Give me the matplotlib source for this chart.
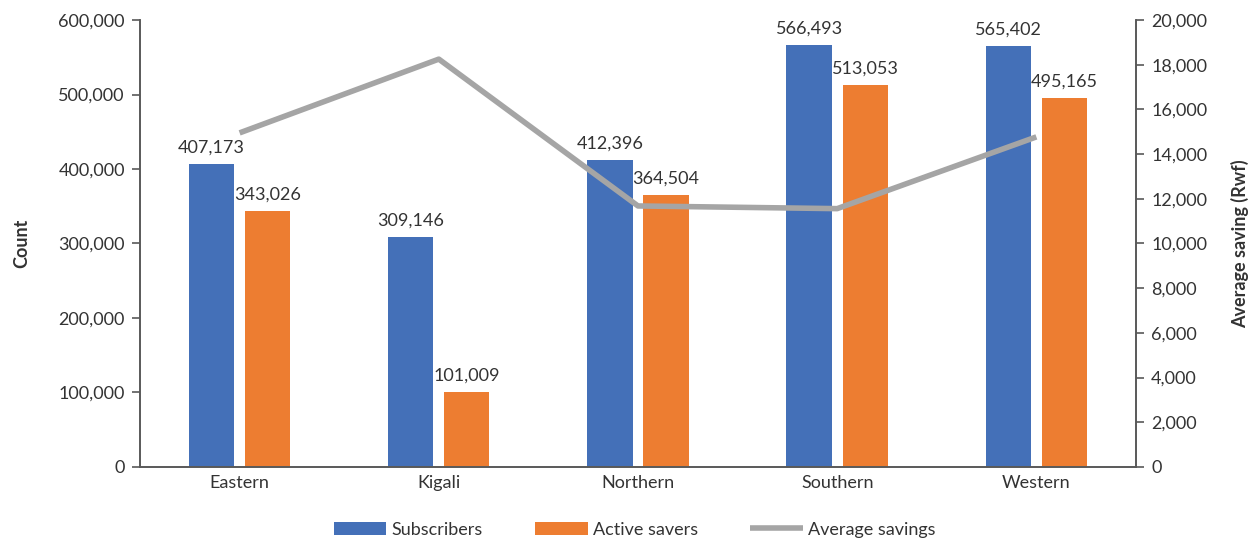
import numpy as np
import matplotlib.pyplot as plt
from matplotlib.ticker import FuncFormatter

regions = ["Eastern", "Kigali", "Northern", "Southern", "Western"]
subscribers = [407173, 309146, 412396, 566493, 565402]
active_savers = [343026, 101009, 364504, 513053, 495165]
avg_savings = [14950, 18250, 11680, 11560, 14770]

plt.rcParams['font.family'] = ['Lato', 'DejaVu Sans']
text_col = "#333333"

fig = plt.figure(figsize=(12.57, 5.38), dpi=100)
ax = fig.add_axes([0.1114, 0.132, 0.7923, 0.8308])
ax2 = ax.twinx()

x = np.arange(len(regions))
w = 0.227
gap = 0.055
b1 = ax.bar(x - (w + gap) / 2, subscribers, w, color="#4470B8", label="Subscribers")
b2 = ax.bar(x + (w + gap) / 2, active_savers, w, color="#ED7D31", label="Active savers")
for bars in (b1, b2):
    for r in bars:
        ax.annotate(f"{int(r.get_height()):,}", (r.get_x() + r.get_width() / 2, r.get_height()),
                    xytext=(0, 6), textcoords="offset points", ha="center", va="bottom",
                    fontsize=13, color=text_col)

line, = ax2.plot(x, avg_savings, color="#A5A5A5", lw=4, solid_capstyle="butt", label="Average savings")

ax.set_xlim(-0.5, len(regions) - 0.5)
ax.set_ylim(0, 600000)
ax2.set_ylim(0, 20000)
ax.set_yticks(np.arange(0, 600001, 100000))
ax2.set_yticks(np.arange(0, 20001, 2000))
fmt = FuncFormatter(lambda v, p: f"{int(v):,}")
ax.yaxis.set_major_formatter(fmt)
ax2.yaxis.set_major_formatter(fmt)
ax.set_xticks(x)
ax.set_xticklabels(regions)

for a in (ax, ax2):
    a.spines['top'].set_visible(False)
    for s in ("left", "right", "bottom"):
        a.spines[s].set_color("#595959")
        a.spines[s].set_linewidth(1.2)
    a.tick_params(axis="y", length=6, width=1.2, color="#595959", labelsize=13, labelcolor=text_col, pad=5)
ax.tick_params(axis="x", length=0, labelsize=13, labelcolor=text_col, pad=6)

ax.set_ylabel("Count", fontsize=13, fontweight="bold", color=text_col, labelpad=20)
ax2.set_ylabel("Average saving (Rwf)", fontsize=13, fontweight="bold", color=text_col, labelpad=17)

fig.legend(handles=[b1, b2, line], loc="lower center", bbox_to_anchor=(0.505, -0.03), ncol=3,
           frameon=False, fontsize=13, handlelength=2.9, handleheight=0.75, handletextpad=0.3,
           columnspacing=2.9, labelcolor=text_col)

fig.savefig("out.png", dpi=100)
